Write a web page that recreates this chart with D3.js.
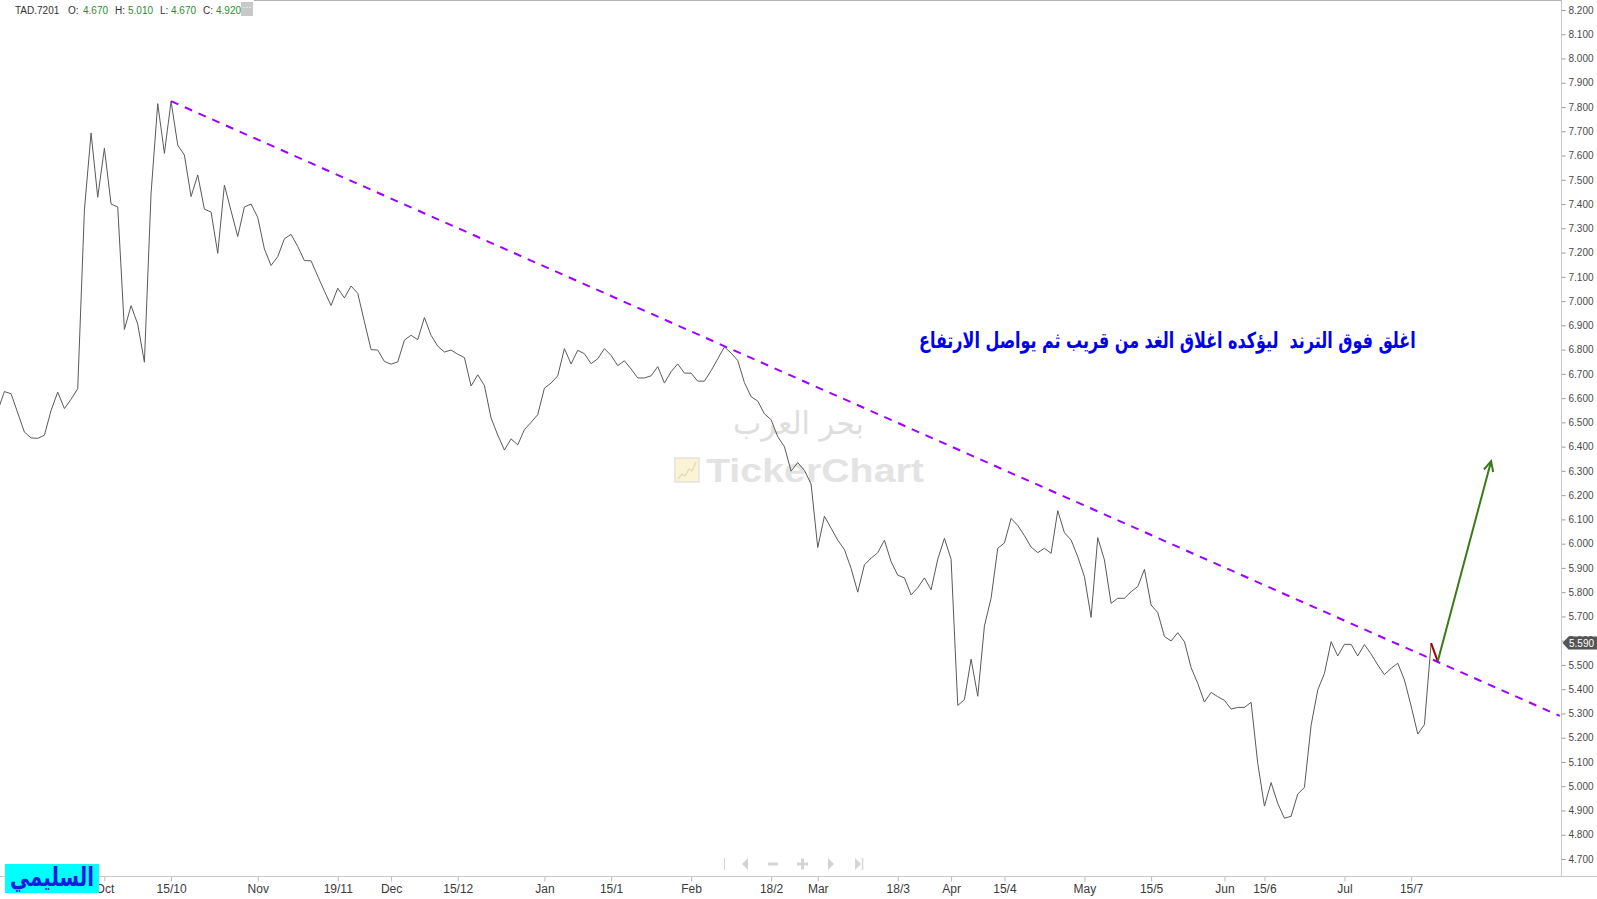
<!DOCTYPE html>
<html><head><meta charset="utf-8">
<script src="https://cdn.jsdelivr.net/npm/d3@7"></script>
<style>body{margin:0;background:#fff;overflow:hidden} svg{display:block}</style>
</head><body>
<svg id="chart" width="1597" height="899"></svg>
<script>
// ---- data (daily closes, index = trading day) ----
const closes = [6.548,
 6.627,6.618,6.539,6.460,6.436,6.434,6.447,6.549,6.625,6.557,
 6.595,6.639,7.375,7.693,7.428,7.630,7.400,7.388,6.883,6.981,
 6.905,6.748,7.445,7.814,7.609,7.824,7.643,7.602,7.431,7.520,
 7.379,7.367,7.197,7.478,7.372,7.266,7.388,7.400,7.345,7.215,
 7.147,7.183,7.257,7.275,7.225,7.167,7.166,7.103,7.041,6.982,
 7.053,7.013,7.062,7.032,6.915,6.800,6.798,6.751,6.740,6.749,
 6.839,6.859,6.841,6.932,6.859,6.814,6.790,6.798,6.781,6.767,
 6.650,6.696,6.652,6.518,6.448,6.386,6.432,6.407,6.470,6.500,
 6.532,6.641,6.662,6.692,6.804,6.741,6.797,6.783,6.742,6.762,
 6.804,6.776,6.734,6.754,6.720,6.683,6.683,6.692,6.730,6.662,
 6.709,6.741,6.703,6.703,6.670,6.670,6.713,6.762,6.811,6.786,
 6.755,6.664,6.606,6.588,6.535,6.511,6.441,6.400,6.299,6.334,
 6.302,6.246,5.984,6.113,6.064,6.014,5.976,5.898,5.800,5.913,
 5.940,5.963,6.014,5.926,5.870,5.859,5.789,5.818,5.859,5.810,
 5.936,6.022,5.936,5.333,5.357,5.524,5.371,5.661,5.775,5.981,
 6.003,6.104,6.075,6.033,5.986,5.963,5.981,5.960,6.136,6.045,
 6.015,5.946,5.864,5.696,6.025,5.933,5.754,5.775,5.775,5.802,
 5.823,5.894,5.747,5.716,5.617,5.599,5.633,5.596,5.489,5.424,
 5.347,5.387,5.369,5.354,5.318,5.325,5.325,5.346,5.094,4.918,
 5.015,4.929,4.868,4.876,4.968,4.995,5.251,5.397,5.465,5.596,
 5.537,5.585,5.585,5.537,5.584,5.545,5.500,5.460,5.486,5.507,
 5.438,5.331,5.215,5.254,5.590];

const yTickValues = [4.7,4.8,4.9,5.0,5.1,5.2,5.3,5.4,5.5,5.6,5.7,5.8,5.9,6.0,6.1,6.2,6.3,6.4,6.5,6.6,6.7,6.8,6.9,7.0,7.1,7.2,7.3,7.4,7.5,7.6,7.7,7.8,7.9,8.0,8.1,8.2];
const xTickIndex  = [16,26,39,51,59,69,82,92,104,116,123,135,143,151,163,173,184,190,202,212];
const xTickLabels = ["Oct","15/10","Nov","19/11","Dec","15/12","Jan","15/1","Feb","18/2","Mar","18/3","Apr","15/4","May","15/5","Jun","15/6","Jul","15/7"];

const trendIdx = [26, 234.3], trendVal = [7.824, 5.29];
const redIdx = [215, 216],    redVal = [5.59, 5.515];
const greenIdx = [216, 224],  greenVal = [5.515, 6.34];

const headerLabels = ["O:","H:","L:","C:"];
const headerValues = ["4.670","5.010","4.670","4.920"];
const lastPrice = 5.59;
const noteText = "اغلق فوق الترند  ليؤكده اغلاق الغد من قريب ثم يواصل الارتفاع";
const authorText = "السليمي";

// ---- layout ----
const svg = d3.select("#chart");
const axisX = 1561.5, axisY = 876.5;
const x = d3.scaleLinear().domain([0, 215]).range([-2.27, 1431.1]);
const y = d3.scaleLinear().domain([4.7, 8.2]).range([859, 10]);

svg.append("defs").append("clipPath").attr("id","plot")
  .append("rect").attr("x",0).attr("y",0).attr("width",1561).attr("height",876);

// top border
svg.append("line").attr("x1",0).attr("x2",axisX).attr("y1",0.5).attr("y2",0.5)
  .attr("stroke","#b0b0b0");

// watermark
const wm = svg.append("g");
function fitText(sel, left, width){
  const b = sel.node().getBBox();
  const sx = width / b.width;
  const base = +sel.attr("data-base");
  sel.attr("x",0).attr("y",0)
     .attr("transform",`translate(${left - b.x*sx},${base}) scale(${sx},1)`);
}
const wmA = wm.append("text").text("بحر العرب")
  .attr("font-family","DejaVu Sans").attr("font-size",31).attr("fill","#dedede")
  .attr("data-base",434);
fitText(wmA, 733, 131);
wm.append("rect").attr("x",675).attr("y",458).attr("width",24).attr("height",24)
  .attr("fill","#fbf3d6").attr("stroke","#e2e2e2").attr("stroke-width",1.5);
wm.append("polyline").attr("points","678,479 682,474 685,476 689,469 692,471 696,462")
  .attr("fill","none").attr("stroke","#e8dcb0").attr("stroke-width",1.5);
const wmB = wm.append("text").text("TickerChart")
  .attr("font-family","Liberation Sans, Arial").attr("font-weight","bold")
  .attr("font-size",34).attr("fill","#e3e3e3").attr("data-base",482);
fitText(wmB, 706, 218);

// axes
const yAxis = d3.axisRight(y).tickValues(yTickValues).tickFormat(d3.format(".3f"))
  .tickSize(4).tickPadding(3);
const gy = svg.append("g").attr("transform",`translate(${axisX},0)`).call(yAxis);
gy.select(".domain").remove();
gy.selectAll(".tick line").attr("stroke","#999");
gy.selectAll(".tick text").attr("fill","#4a4a4a").attr("font-size",10)
  .attr("font-family","Liberation Sans, Arial");
svg.append("line").attr("x1",axisX).attr("x2",axisX).attr("y1",0).attr("y2",axisY)
  .attr("stroke","#c8c8c8");

const xAxis = d3.axisBottom(x).tickValues(xTickIndex).tickFormat((d,i)=>xTickLabels[i])
  .tickSize(5).tickPadding(3);
const gx = svg.append("g").attr("transform",`translate(0,${axisY})`).call(xAxis);
gx.select(".domain").remove();
gx.selectAll(".tick line").attr("stroke","#bbb");
gx.selectAll(".tick text").attr("fill","#3a3a3a").attr("font-size",12)
  .attr("font-family","Liberation Sans Narrow, Liberation Sans, Arial");
svg.append("line").attr("x1",0).attr("x2",1597).attr("y1",axisY).attr("y2",axisY)
  .attr("stroke","#c8c8c8");

// plot
const plot = svg.append("g").attr("clip-path","url(#plot)");
plot.append("path").datum(closes)
  .attr("d", d3.line().x((d,i)=>x(i)).y(d=>y(d)))
  .attr("fill","none").attr("stroke","#5a5a5a").attr("stroke-width",1);

const pairs = (I,V)=>I.map((d,i)=>[d,V[i]]);
const ln = d3.line().x(d=>x(d[0])).y(d=>y(d[1]));
plot.append("path").datum(pairs(trendIdx,trendVal)).attr("d",ln)
  .attr("fill","none").attr("stroke","#a000ff").attr("stroke-width",2)
  .attr("stroke-dasharray","8,7");
plot.append("path").datum(pairs(redIdx,redVal)).attr("d",ln)
  .attr("fill","none").attr("stroke","#a00000").attr("stroke-width",2);
plot.append("path").datum(pairs(greenIdx,greenVal)).attr("d",ln)
  .attr("fill","none").attr("stroke","#3a7a18").attr("stroke-width",2);
// arrow head
{
  const x0 = x(greenIdx[0]), y0 = y(greenVal[0]), x1 = x(greenIdx[1]), y1 = y(greenVal[1]);
  const a = Math.atan2(y1-y0, x1-x0), L = 11, s = 0.45;
  const p1 = [x1 - L*Math.cos(a-s), y1 - L*Math.sin(a-s)];
  const p2 = [x1 - L*Math.cos(a+s), y1 - L*Math.sin(a+s)];
  plot.append("path").attr("d",`M${p1}L${x1},${y1}L${p2}`)
    .attr("fill","none").attr("stroke","#3a7a18").attr("stroke-width",2);
}

// last price tag
{
  const ty = y(lastPrice);
  svg.append("path")
    .attr("d",`M${axisX+1},${ty}L${axisX+7},${ty-6.5}L1597,${ty-6.5}L1597,${ty+6.5}L${axisX+7},${ty+6.5}Z`)
    .attr("fill","#555");
  svg.append("text").attr("x",1569).attr("y",ty+3.5).text(d3.format(".3f")(lastPrice))
    .attr("fill","#fff").attr("font-size",10).attr("font-family","Liberation Sans, Arial");
}

// annotation
const note = svg.append("text").text(noteText)
  .style("white-space","pre")
  .attr("font-family","DejaVu Sans").attr("font-weight","bold").attr("font-size",22)
  .attr("fill","#0000ee").attr("data-base",348);
fitText(note, 919, 497);

// author box
svg.append("rect").attr("x",5).attr("y",864).attr("width",94).attr("height",29).attr("fill","#00ffff");
const auth = svg.append("text").text(authorText)
  .attr("font-family","DejaVu Sans").attr("font-weight","bold").attr("font-size",26)
  .attr("fill","#1a1ae0").attr("data-base",886);
fitText(auth, 10, 84);

// header
const hdr = svg.append("g").attr("font-family","Liberation Sans, Arial").attr("font-size",10);
hdr.append("rect").attr("x",0).attr("y",0).attr("width",254).attr("height",19).attr("fill","#fff");
hdr.append("text").attr("x",15).attr("y",14).attr("fill","#333").text("TAD.7201");
const lx = [68,115,160,203], vx = [83,128,171,216];
headerLabels.forEach((t,i)=>{
  hdr.append("text").attr("x",lx[i]).attr("y",14).attr("fill","#333").text(t);
  hdr.append("text").attr("x",vx[i]).attr("y",14).attr("fill","#2e8b2e").text(headerValues[i]);
});
hdr.append("rect").attr("x",241).attr("y",2).attr("width",12).attr("height",14).attr("fill","#c8c8c8");
hdr.append("text").attr("x",247).attr("y",10).attr("text-anchor","middle").attr("fill","#fff")
  .attr("font-size",9).text("···");

// navigation bar
const nav = svg.append("g").attr("fill","#d4d4d4").attr("stroke","#d4d4d4");
nav.append("line").attr("x1",724.5).attr("x2",724.5).attr("y1",858).attr("y2",870).attr("stroke-width",1);
nav.append("path").attr("d","M742,864L748,858L748,870Z").attr("stroke","none");
nav.append("rect").attr("x",768).attr("y",862.5).attr("width",10).attr("height",3).attr("stroke","none");
nav.append("rect").attr("x",797).attr("y",862.5).attr("width",11).attr("height",3).attr("stroke","none");
nav.append("rect").attr("x",801).attr("y",858.5).attr("width",3).attr("height",11).attr("stroke","none");
nav.append("path").attr("d","M834,864L828,858L828,870Z").attr("stroke","none");
nav.append("path").attr("d","M861,864L855,858L855,870Z").attr("stroke","none");
nav.append("line").attr("x1",862.5).attr("x2",862.5).attr("y1",858).attr("y2",870).attr("stroke-width",1.5);
</script>
</body></html>
